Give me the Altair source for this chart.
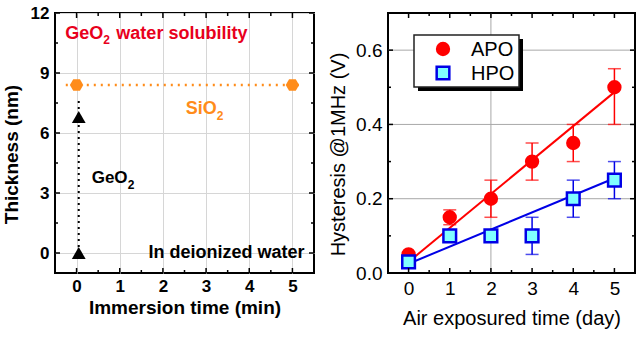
import altair as alt
import pandas as pd

FONT = "Liberation Sans"

# ---------------- panel (a): oxide thickness after immersion in water ----------------
sio2_time = [0, 5]
sio2_thick = [8.4, 8.4]
sio2_guide_time = [-0.25, 5.25]
sio2_guide_thick = [8.4, 8.4]

geo2_time = [0.05, 0.05]
geo2_thick = [6.8, 0.0]
geo2_guide_time = [0.05, 0.05]
geo2_guide_thick = [7.6, -0.5]

time_ticks = [0, 1, 2, 3, 4, 5]
time_minor = [0.5, 1.5, 2.5, 3.5, 4.5]
thick_ticks = [0, 3, 6, 9, 12]
thick_minor = [1.5, 4.5, 7.5, 10.5]

# ---------------- panel (b): hysteresis vs. air exposure ----------------
series = ["APO", "HPO"]
days = [0, 1, 2, 3, 4, 5]
apo = [0.05, 0.15, 0.20, 0.30, 0.35, 0.50]
apo_lo = [0.045, 0.13, 0.15, 0.25, 0.30, 0.40]
apo_hi = [0.055, 0.17, 0.25, 0.35, 0.40, 0.55]
hpo = [0.03, 0.10, 0.10, 0.10, 0.20, 0.25]
hpo_lo = [0.03, 0.10, 0.10, 0.05, 0.15, 0.20]
hpo_hi = [0.03, 0.10, 0.10, 0.15, 0.25, 0.30]
fit_days = [0, 5]
apo_fit = [0.03, 0.487]
hpo_fit = [0.025, 0.255]

day_ticks = [0, 1, 2, 3, 4, 5]
day_minor = [0.5, 1.5, 2.5, 3.5, 4.5]
hyst_ticks = [0.0, 0.2, 0.4, 0.6]
hyst_minor = [0.1, 0.3, 0.5]
hyst_grid = [0.2, 0.4, 0.6]
day_grid = [2]

ORANGE = "#ff8c1a"
RED_A = "#e8001c"
RED = "#ff0000"
BLUE = "#0000e6"
CYAN = "#80ffff"

W_A, H_A = 259, 260
W_B, H_B = 247, 260

HEXAGON = "M-1,0L-0.5,-0.866L0.5,-0.866L1,0L0.5,0.866L-0.5,0.866Z"


def inward_ticks(x_major, x_minor, y_major, y_minor, xf, yf, w, h):
    """Tick marks drawn inside the frame on all four sides."""
    layers = []
    for vals, ln in ((x_major, 5), (x_minor, 3)):
        d = pd.DataFrame({"v": vals})
        for y0, y1 in ((h, h - ln), (0, ln)):
            layers.append(
                alt.Chart(d).mark_rule(color="black", strokeWidth=1.5).encode(
                    x=alt.X("v:Q", scale=xf), y=alt.value(y0), y2=alt.value(y1)
                )
            )
    for vals, ln in ((y_major, 5), (y_minor, 3)):
        d = pd.DataFrame({"v": vals})
        for x0, x1 in ((0, ln), (w, w - ln)):
            layers.append(
                alt.Chart(d).mark_rule(color="black", strokeWidth=1.5).encode(
                    y=alt.Y("v:Q", scale=yf), x=alt.value(x0), x2=alt.value(x1)
                )
            )
    return layers


def label(x, y, text, color, size, xs, ys, align="left", dx=0, dy=0):
    """One bold text run anchored at a data position."""
    return alt.Chart(pd.DataFrame({"x": [x], "y": [y], "txt": [text]})).mark_text(
        font=FONT, fontSize=size, fontWeight="bold", color=color,
        align=align, baseline="middle", dx=dx, dy=dy,
    ).encode(x=alt.X("x:Q", scale=xs), y=alt.Y("y:Q", scale=ys), text="txt:N")


# ---- panel (a) ----
xs_a = alt.Scale(domain=[-0.5, 5.5], nice=False, zero=False)
ys_a = alt.Scale(domain=[-1, 12], nice=False, zero=False)

axis_a = dict(
    ticks=False, domain=False, grid=True, gridColor="#d6d6d6", gridWidth=1,
    labelFont=FONT, labelFontSize=17, labelFontWeight="bold", labelColor="black",
    titleFont=FONT, titleFontSize=19, titleFontWeight="bold", titleColor="black",
)

base_a = alt.Chart(pd.DataFrame({"t": [0]})).mark_point(opacity=0).encode(
    x=alt.X("t:Q", scale=xs_a, title="Immersion time (min)",
            axis=alt.Axis(values=time_ticks, labelPadding=5, titlePadding=4, **axis_a)),
    y=alt.Y("t:Q", scale=ys_a, title="Thickness (nm)",
            axis=alt.Axis(values=thick_ticks, labelPadding=6, titlePadding=9, titleY=141, **axis_a)),
)

sio2_guide = alt.Chart(pd.DataFrame({"t": sio2_guide_time, "d": sio2_guide_thick})).mark_line(
    color=ORANGE, strokeWidth=2.5, strokeDash=[2, 5]
).encode(x=alt.X("t:Q", scale=xs_a), y=alt.Y("d:Q", scale=ys_a))

sio2_pts = alt.Chart(pd.DataFrame({"t": sio2_time, "d": sio2_thick})).mark_point(
    shape=HEXAGON, filled=True, color=ORANGE, size=180, opacity=1
).encode(x=alt.X("t:Q", scale=xs_a), y=alt.Y("d:Q", scale=ys_a))

geo2_guide = alt.Chart(pd.DataFrame({"t": geo2_guide_time, "d": geo2_guide_thick})).mark_line(
    color="black", strokeWidth=2, strokeDash=[2, 4]
).encode(x=alt.X("t:Q", scale=xs_a), y=alt.Y("d:Q", scale=ys_a))

geo2_pts = alt.Chart(pd.DataFrame({"t": geo2_time, "d": geo2_thick})).mark_point(
    shape="triangle-up", filled=True, color="black", size=190, opacity=1
).encode(x=alt.X("t:Q", scale=xs_a), y=alt.Y("d:Q", scale=ys_a))

# annotations, with chemical subscripts set as separate smaller runs
notes_a = [
    label(-0.26, 10.95, "GeO", RED_A, 18, xs_a, ys_a),
    label(-0.26, 10.95, "2", RED_A, 12, xs_a, ys_a, dx=38, dy=6),
    label(-0.26, 10.95, "water solubility", RED_A, 18, xs_a, ys_a, dx=51),
    label(2.53, 7.2, "SiO", ORANGE, 18, xs_a, ys_a),
    label(2.53, 7.2, "2", ORANGE, 12, xs_a, ys_a, dx=31, dy=7),
    label(0.35, 3.75, "GeO", "black", 17, xs_a, ys_a),
    label(0.35, 3.75, "2", "black", 12, xs_a, ys_a, dx=36, dy=7),
    label(5.28, 0.0, "In deionized water", "black", 18, xs_a, ys_a, align="right"),
]

panel_a = alt.layer(
    base_a, sio2_guide, geo2_guide, sio2_pts, geo2_pts, *notes_a,
    *inward_ticks(time_ticks, time_minor, thick_ticks, thick_minor, xs_a, ys_a, W_A, H_A),
).properties(width=W_A, height=H_A)

# ---- panel (b) ----
xs_b = alt.Scale(domain=[-0.5, 5.5], nice=False, zero=False)
ys_b = alt.Scale(domain=[0, 0.7], nice=False, zero=False)

axis_b = dict(
    ticks=False, domain=False, grid=False,
    labelFont=FONT, labelFontSize=19, labelColor="black",
    titleFont=FONT, titleFontSize=20, titleFontWeight="normal", titleColor="black",
)

df_b = pd.DataFrame({
    "day": days * 2,
    "v": apo + hpo,
    "lo": apo_lo + hpo_lo,
    "hi": apo_hi + hpo_hi,
    "series": [series[0]] * len(days) + [series[1]] * len(days),
})

grid_y = alt.Chart(pd.DataFrame({"v": hyst_grid})).mark_rule(color="#a8a8a8", strokeWidth=1).encode(
    y=alt.Y("v:Q", scale=ys_b, title="Hysteresis @1MHz (V)",
            axis=alt.Axis(values=hyst_ticks, format=".1f", labelPadding=6, titlePadding=7,
                          titleY=141, **axis_b))
)
grid_x = alt.Chart(pd.DataFrame({"v": day_grid})).mark_rule(color="#a8a8a8", strokeWidth=1).encode(
    x=alt.X("v:Q", scale=xs_b, title="Air exposured time (day)",
            axis=alt.Axis(values=day_ticks, labelPadding=6, titlePadding=10, **axis_b))
)

styles = {series[0]: (RED, RED, "circle", 140), series[1]: (CYAN, BLUE, "square", 160)}

fit_layers, err_layers, pt_layers = [], [], []
for name, fit in ((series[0], apo_fit), (series[1], hpo_fit)):
    fill, col, shape, size = styles[name]
    fit_layers.append(
        alt.Chart(pd.DataFrame({"day": fit_days, "v": fit})).mark_line(color=col, strokeWidth=2).encode(
            x=alt.X("day:Q", scale=xs_b), y=alt.Y("v:Q", scale=ys_b)
        )
    )
    sub = alt.Chart(df_b).transform_filter(alt.datum.series == name)
    err_layers.append(
        sub.mark_rule(color=col, strokeWidth=1.5).encode(
            x=alt.X("day:Q", scale=xs_b), y=alt.Y("lo:Q", scale=ys_b), y2="hi:Q"
        )
    )
    for end in ("lo", "hi"):
        err_layers.append(
            sub.mark_tick(color=col, thickness=1.5, size=13, orient="horizontal").encode(
                x=alt.X("day:Q", scale=xs_b), y=alt.Y(f"{end}:Q", scale=ys_b)
            )
        )
    pt_layers.append(
        sub.mark_point(shape=shape, filled=True, fill=fill, stroke=col, strokeWidth=2.5,
                       size=size, opacity=1).encode(
            x=alt.X("day:Q", scale=xs_b), y=alt.Y("v:Q", scale=ys_b)
        )
    )

# boxed key with a drop shadow in the upper-left corner of the plot
one = pd.DataFrame({"k": [0]})
key_shadow = alt.Chart(one).mark_rect(color="black").encode(
    x=alt.value(30), x2=alt.value(135), y=alt.value(26), y2=alt.value(78)
)
key_box = alt.Chart(one).mark_rect(fill="white", stroke="#222222", strokeWidth=1.5).encode(
    x=alt.value(26), x2=alt.value(131), y=alt.value(22), y2=alt.value(74)
)
key_layers = [key_shadow, key_box]
for i, name in enumerate(series):
    fill, col, shape, size = styles[name]
    yk = 36 + 24 * i
    key_layers.append(
        alt.Chart(one).mark_point(shape=shape, filled=True, fill=fill, stroke=col, strokeWidth=2.5,
                                  size=size, opacity=1).encode(x=alt.value(55), y=alt.value(yk))
    )
    key_layers.append(
        alt.Chart(pd.DataFrame({"txt": [name]})).mark_text(
            font=FONT, fontSize=20, color="black", align="left", baseline="middle"
        ).encode(x=alt.value(83), y=alt.value(yk + 1), text="txt:N")
    )

panel_b = alt.layer(
    grid_y, grid_x, *fit_layers, *err_layers, *pt_layers, *key_layers,
    *inward_ticks(day_ticks, day_minor, hyst_ticks, hyst_minor, xs_b, ys_b, W_B, H_B),
).properties(width=W_B, height=H_B)

chart = (
    alt.hconcat(panel_a, panel_b, spacing=11)
    .configure(padding={"left": 1, "top": 3, "right": 0, "bottom": 0}, background="white")
    .configure_view(stroke="black", strokeWidth=2)
)

chart.save("out.html", embed_options={"renderer": "svg", "actions": False})
